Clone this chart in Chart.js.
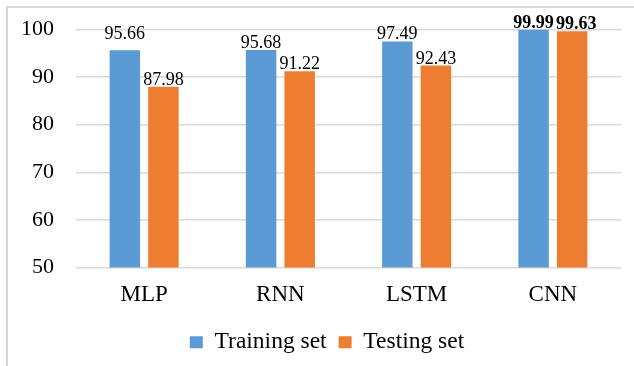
<!DOCTYPE html>
<html>
<head>
<meta charset="utf-8">
<script src="https://cdn.jsdelivr.net/npm/chart.js@4/dist/chart.umd.min.js"></script>
<style>
  html, body { margin: 0; padding: 0; background: #ffffff; }
  #wrap { width: 634px; height: 366px; position: relative; }
</style>
</head>
<body>
<div id="wrap"><canvas id="chart" width="634" height="366"></canvas></div>
<script>
// Model accuracy (%) on the training and testing sets
const categories = ['MLP', 'RNN', 'LSTM', 'CNN'];
const trainingSet = [95.66, 95.68, 97.49, 99.99];
const testingSet = [87.98, 91.22, 92.43, 99.63];
const yMin = 50;
const yMax = 100;
const yStep = 10;

const FONT = '"Liberation Serif", "Times New Roman", serif';

// Light frame around the whole figure; legend nudged right under the plot
const framePlugin = {
  id: 'frame',
  afterLayout(chart) {
    const lg = chart.legend;
    if (lg) { lg.left += 10; lg.right += 10; }
  },
  beforeDraw(chart) {
    const ctx = chart.ctx;
    ctx.save();
    ctx.fillStyle = '#ffffff';
    ctx.fillRect(0, 0, chart.width, chart.height);
    ctx.strokeStyle = '#d6d6d6';
    ctx.lineWidth = 2;
    ctx.strokeRect(7, 7, chart.width + 20, chart.height + 20);
    ctx.restore();
  }
};

// Value labels above each bar
const valueLabelPlugin = {
  id: 'valueLabels',
  afterDatasetsDraw(chart, args, opts) {
    const ctx = chart.ctx;
    ctx.save();
    ctx.fillStyle = '#000000';
    ctx.textAlign = 'center';
    ctx.textBaseline = 'alphabetic';
    chart.data.datasets.forEach((ds, di) => {
      const meta = chart.getDatasetMeta(di);
      meta.data.forEach((bar, i) => {
        const bold = opts.boldIndex.includes(i);
        ctx.font = (bold ? 'bold ' : '') + opts.size + 'px ' + FONT;
        const shift = (opts.shift[di] && opts.shift[di][i]) || [0, 0];
        ctx.fillText(ds.data[i].toFixed(2), bar.x + shift[0], bar.y - opts.offset - shift[1]);
      });
    });
    ctx.restore();
  }
};

new Chart(document.getElementById('chart'), {
  type: 'bar',
  data: {
    labels: categories,
    datasets: [
      {
        label: 'Training set',
        data: trainingSet,
        backgroundColor: '#5B9BD5',
        categoryPercentage: 0.566,
        barPercentage: 0.79
      },
      {
        label: 'Testing set',
        data: testingSet,
        backgroundColor: '#ED7D31',
        categoryPercentage: 0.566,
        barPercentage: 0.79
      }
    ]
  },
  options: {
    responsive: false,
    animation: false,
    layout: { padding: { left: 13, right: 13, top: 29.5, bottom: 2 } },
    scales: {
      x: {
        grid: { display: false, drawTicks: false },
        border: { display: false },
        ticks: { color: '#000000', font: { family: FONT, size: 23 }, padding: 14 },
        afterFit(scale) { scale.height = 51; }
      },
      y: {
        min: yMin,
        max: yMax,
        grid: { color: '#d9d9d9', lineWidth: 1.5, drawTicks: false },
        border: { display: false },
        ticks: { stepSize: yStep, color: '#000000', font: { family: FONT, size: 22 }, padding: 22 },
        afterFit(scale) {
          scale.width = 63;
          scale.paddingTop = 0;
          scale.paddingBottom = 0;
        }
      }
    },
    plugins: {
      legend: {
        position: 'bottom',
        labels: {
          color: '#000000',
          font: { family: FONT, size: 23.5 },
          boxWidth: 13,
          boxHeight: 12,
          padding: 12
        }
      },
      tooltip: { enabled: false },
      valueLabels: {
        size: 18,
        offset: 2,
        boldIndex: [3],
        shift: { 0: { 0: [0, 9] }, 1: { 3: [4, 0] } }
      }
    }
  },
  plugins: [framePlugin, valueLabelPlugin]
});
</script>
</body>
</html>
